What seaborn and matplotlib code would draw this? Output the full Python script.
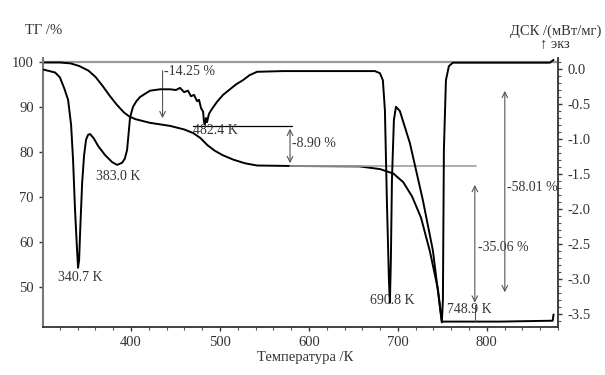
import numpy as np
import pandas as pd
import matplotlib
matplotlib.use("Agg")
import matplotlib.pyplot as plt
from matplotlib.ticker import MultipleLocator
import seaborn as sns

# TG curve (left axis, %)
tg_t = [302, 320, 332, 342, 352, 360, 368, 376, 384, 392, 398, 405, 421, 444, 460, 470,
        478, 486, 494, 503, 515, 528, 541.6, 578.7, 657, 680, 695, 706, 716, 726, 736,
        745, 749.4, 814.6, 874, 875]
tg_v = [100, 100, 99.8, 99.2, 98.2, 96.8, 94.8, 92.6, 90.6, 88.9, 88.0, 87.4, 86.6, 85.9, 85.1, 84.3,
        83.2, 81.6, 80.4, 79.4, 78.4, 77.6, 77.1, 77.0, 76.9, 76.3, 75.3, 73.4, 70.2, 65.5, 58.0,
        49.6, 42.4, 42.4, 42.6, 44.0]

# DSC curve (right axis, mW/mg)
dsc_t = [302, 314.6, 320, 325, 329.2, 332.6, 334.8, 337, 339.3, 340.4, 341.6, 342.7, 345, 347.2,
         349.4, 351.7, 354, 358, 363, 370.8, 378.7, 384.3, 389.9, 393, 395.5, 396.6, 398.9, 402.2,
         406, 410.1, 421.3, 432.6, 443.8, 450.6, 455, 459.6, 464, 467.4, 470.8, 474.2, 476.4,
         478.7, 481, 482, 483, 484.3, 485.4, 487.6, 491, 496.6, 503.4, 511.2, 518, 525.8, 533, 541.6,
         570.8, 623.6, 674.2, 679.8, 683.1, 685.4, 687.6, 689.9, 691, 692.1, 693.3, 695.5,
         697.8, 702.2, 713.5, 728, 739.3, 749.4, 750.6, 751.7, 754, 757.3, 761.8, 814.6,
         870.8, 875]
dsc_v = [-0.01, -0.05, -0.12, -0.28, -0.44, -0.80, -1.30, -2.01, -2.59, -2.84, -2.73, -2.34, -1.63, -1.23,
         -1.01, -0.94, -0.93, -0.99, -1.10, -1.23, -1.33, -1.37, -1.34, -1.28, -1.16, -1.01, -0.69, -0.54,
         -0.46, -0.40, -0.31, -0.29, -0.29, -0.30, -0.27, -0.33, -0.31, -0.39, -0.37, -0.46, -0.44,
         -0.56, -0.61, -0.76, -0.79, -0.70, -0.76, -0.64, -0.57, -0.47, -0.37, -0.29, -0.22, -0.16, -0.09, -0.04,
         -0.03, -0.03, -0.03, -0.06, -0.16, -0.59, -1.87, -3.01, -3.34, -2.73, -1.59, -0.73,
         -0.54, -0.60, -1.06, -1.87, -2.59, -3.62, -3.30, -1.16, -0.16, 0.04, 0.09, 0.09,
         0.09, 0.13]

peak_labels = ["340.7 K", "383.0 K", "482.4 K", "690.8 K", "748.9 K"]
step_labels = ["-14.25 %", "-8.90 %", "-35.06 %", "-58.01 %"]

sns.set_style("ticks")
plt.rcParams['font.family'] = ['Liberation Serif', 'DejaVu Serif']
plt.rcParams['xtick.direction'] = 'out'
plt.rcParams['ytick.direction'] = 'out'

fig = plt.figure(figsize=(6.05, 3.75), dpi=100)
ax1 = fig.add_axes([43/605, 1-327/375, (558-43)/605, (327-58)/375])
ax2 = ax1.twinx()

tg = pd.DataFrame({'T': tg_t, 'TG': tg_v})
dsc = pd.DataFrame({'T': dsc_t, 'DSC': dsc_v})
sns.lineplot(data=tg, x='T', y='TG', ax=ax1, sort=False, color='black', lw=1.4)
sns.lineplot(data=dsc, x='T', y='DSC', ax=ax2, sort=False, color='black', lw=1.4)

ax1.set_xlim(301, 880)
ax1.set_ylim(41.2, 101.0)
ax2.set_ylim(-3.686, 0.157)

ax1.axhline(100, color='#9a9a9a', lw=1.6, zorder=0)

ax1.xaxis.set_major_locator(MultipleLocator(100))
ax1.xaxis.set_minor_locator(MultipleLocator(20))
ax1.set_yticks([50, 60, 70, 80, 90, 100])
ax2.yaxis.set_minor_locator(MultipleLocator(0.1))
ax2.set_yticks([0.0, -0.5, -1.0, -1.5, -2.0, -2.5, -3.0, -3.5])
ax2.set_yticklabels(['0.0', '-0.5', '-1.0', '-1.5', '-2.0', '-2.5', '-3.0', '-3.5'])

for ax in (ax1, ax2):
    ax.tick_params(which='major', length=3, width=1, labelsize=10.5, colors='#333333')
    ax.tick_params(which='minor', length=2, width=0.8, colors='#555555')
    ax.set_xlabel('')
    ax.set_ylabel('')
ax1.spines['top'].set_visible(False)
ax2.spines['top'].set_visible(False)
ax2.spines['left'].set_visible(False)
ax2.spines['bottom'].set_visible(False)
ax1.spines['right'].set_visible(False)
ax1.spines['left'].set_color('#777777')
ax1.spines['left'].set_linewidth(1.5)
ax1.spines['bottom'].set_color('#333333')
ax1.spines['bottom'].set_linewidth(1.3)
ax2.spines['right'].set_color('#333333')
ax2.spines['right'].set_linewidth(1.3)

tc = '#333333'
fs = 10
# step annotations (left-axis data coords)
ax1.annotate('', xy=(435.4, 87.0), xytext=(435.4, 98.8),
             arrowprops=dict(arrowstyle='->', color='#555555', lw=0.8))
ax1.text(437, 97.9, step_labels[0], fontsize=fs, color=tc, va='center', ha='left')

ax1.plot([470, 581], [85.9, 85.9], color='black', lw=0.9)
ax1.annotate('', xy=(578.7, 77.0), xytext=(578.7, 85.9),
             arrowprops=dict(arrowstyle='<->', color='#555555', lw=0.8))
ax1.text(581, 82.1, step_labels[1], fontsize=fs, color=tc, va='center', ha='left')

ax1.plot([578.7, 787.6], [77.0, 77.0], color='#a0a0a0', lw=1.2)
ax1.annotate('', xy=(786.5, 46.0), xytext=(786.5, 73.4),
             arrowprops=dict(arrowstyle='<->', color='#555555', lw=0.8))
ax1.plot([786.5, 786.5], [46.0, 42.4], color='#555555', lw=0.8)
ax1.text(790, 58.8, step_labels[2], fontsize=fs, color=tc, va='center', ha='left')

ax1.annotate('', xy=(820.2, 48.3), xytext=(820.2, 94.3),
             arrowprops=dict(arrowstyle='<->', color='#555555', lw=0.8))
ax1.text(822.5, 72.3, step_labels[3], fontsize=fs, color=tc, va='center', ha='left')

# peak labels
ax1.text(342.7, 52.1, peak_labels[0], fontsize=fs, color=tc, va='center', ha='center')
ax1.text(385.4, 74.6, peak_labels[1], fontsize=fs, color=tc, va='center', ha='center')
ax1.text(469.7, 84.8, peak_labels[2], fontsize=fs, color=tc, va='center', ha='left')
ax1.text(693.3, 47.2, peak_labels[3], fontsize=fs, color=tc, va='center', ha='center')
ax1.text(755, 45.0, peak_labels[4], fontsize=fs, color=tc, va='center', ha='left')

# axis titles
fig.text(25/605, 1-31/375, 'ТГ /%', fontsize=10.5, color=tc, ha='left', va='center')
fig.text(510/605, 1-31/375, 'ДСК /(мВт/мг)', fontsize=10.5, color=tc, ha='left', va='center')
fig.text(540/605, 1-44/375, '↑ экз', fontsize=10.5, color=tc, ha='left', va='center')
fig.text(305/605, 1-358/375, 'Температура /К', fontsize=10.5, color=tc, ha='center', va='center')

fig.savefig('out.png', dpi=100)
